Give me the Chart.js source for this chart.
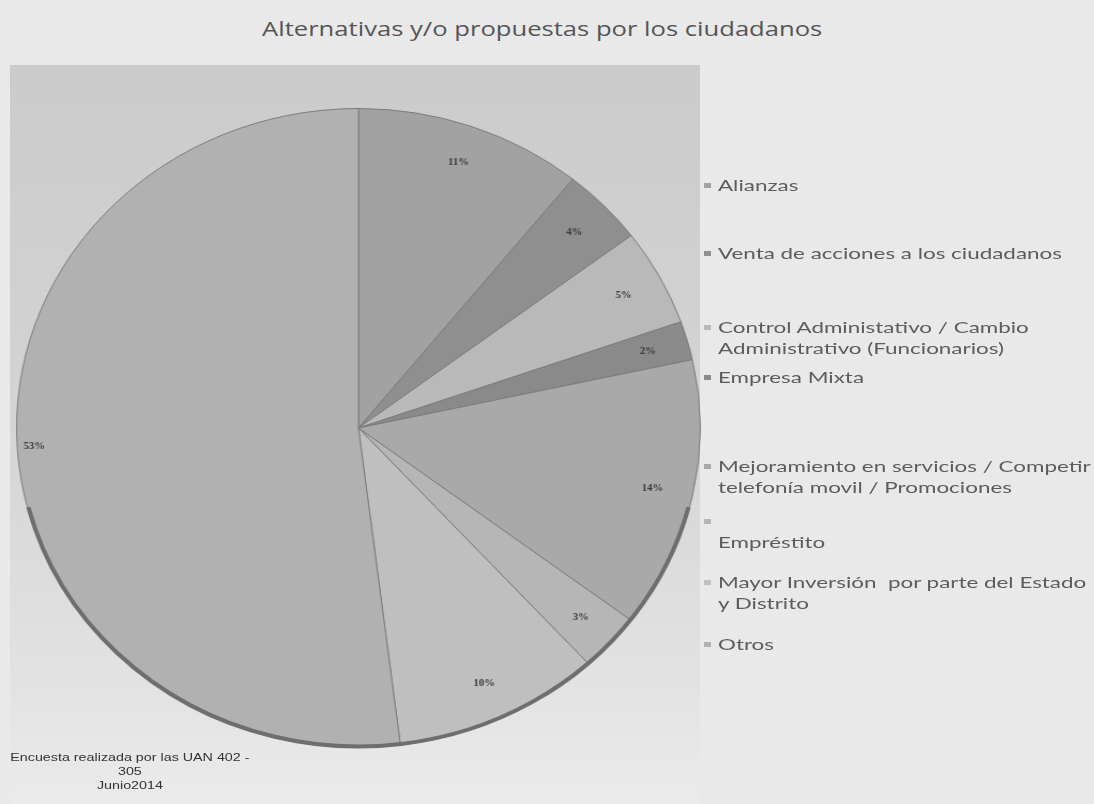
<!DOCTYPE html>
<html lang="es">

<head>
    <meta charset="UTF-8">
    <title>Alternativas y/o propuestas por los ciudadanos</title>
    <script src="https://cdn.jsdelivr.net/npm/chart.js@4/dist/chart.umd.min.js"></script>
    <style>
        body {
            margin: 0;
            width: 1094px;
            height: 804px;
            overflow: hidden;
            position: relative;
            background-color: #e9e9e9;
            font-family: Lato, "Noto Sans", sans-serif;
        }

        .plot-bg {
            position: absolute;
            left: 10px;
            top: 65px;
            width: 690px;
            height: 739px;
            background: linear-gradient(to bottom, #cbcbcb 0%, #d3d3d3 45%, #e3e3e3 85%, #ebebeb 100%);
        }

        .title {
            position: absolute;
            top: 15px;
            left: 262px;
            white-space: nowrap;
            font-family: "Open Sans", sans-serif;
            font-size: 20px;
            color: #555;
            transform: scaleX(1.28);
            transform-origin: 0 0;
        }

        /* the photo of the original is stretched sideways a bit */
        .chart-wrap {
            position: absolute;
            left: 0;
            top: 0;
            transform: scaleX(1.07);
            transform-origin: 0 0;
        }

        .legend {
            position: absolute;
            left: 704px;
            top: 0;
        }

        .legend-item {
            position: absolute;
            left: 0;
            white-space: pre;
            font-size: 16px;
            line-height: 21px;
            color: #5c5c5c;
            transform: scaleX(1.4);
            transform-origin: 0 0;
        }

        .legend-item .box {
            display: inline-block;
            width: 5px;
            height: 5px;
            margin-right: 5px;
            vertical-align: 3px;
        }

        .legend-item .txt {
            display: inline-block;
            vertical-align: top;
        }

        .note {
            position: absolute;
            left: 9px;
            top: 750px;
            width: 186px;
            text-align: center;
            font-family: "Liberation Sans Narrow", "Liberation Sans", sans-serif;
            font-size: 11px;
            line-height: 14px;
            color: #333;
            transform: scaleX(1.3);
            transform-origin: 0 0;
        }
    </style>
</head>

<body>
    <div class="plot-bg"></div>
    <div class="title">Alternativas y/o propuestas por los ciudadanos</div>
    <div class="chart-wrap"><canvas id="chart" width="1024" height="804"></canvas></div>
    <div class="legend" id="legend"></div>
    <div class="note">Encuesta realizada por las UAN 402 -<br>305<br>Junio2014</div>

    <script>
        // Alternativas (same order as the legend, clockwise from the top)
        const categories = [
            'Alianzas',
            'Venta de acciones a los ciudadanos',
            'Control Administativo / Cambio\nAdministrativo (Funcionarios)',
            'Empresa Mixta',
            'Mejoramiento en servicios / Competir\ntelefonía movil / Promociones',
            '\nEmpréstito',
            'Mayor Inversión  por parte del Estado\ny Distrito',
            'Otros'
        ];
        // percent of answers
        const percentages = [11, 4, 5, 2, 14, 3, 10, 53];
        const sliceColors = ['#a2a2a2', '#8f8f8f', '#b9b9b9', '#8a8a8a', '#a9a9a9', '#b6b6b6', '#bfbfbf', '#b1b1b1'];

        // percent labels inside the slices
        const sliceLabels = {
            id: 'sliceLabels',
            afterDatasetsDraw(chart) {
                const ctx = chart.ctx;
                const meta = chart.getDatasetMeta(0);
                ctx.save();
                ctx.font = 'bold 10px "Liberation Serif", serif';
                ctx.fillStyle = '#3a3a3a';
                ctx.textAlign = 'center';
                ctx.textBaseline = 'middle';
                meta.data.forEach((arc, i) => {
                    const mid = (arc.startAngle + arc.endAngle) / 2;
                    const r = arc.outerRadius * (i === meta.data.length - 1 ? 0.95 : 0.88);
                    ctx.fillText(percentages[i] + '%', arc.x + Math.cos(mid) * r, arc.y + Math.sin(mid) * r);
                });
                // darker rim on the lower edge (3D look)
                const a = meta.data[0];
                ctx.beginPath();
                ctx.arc(a.x, a.y, a.outerRadius - 1, Math.PI * 0.08, Math.PI * 0.92);
                ctx.lineWidth = 4;
                ctx.strokeStyle = '#6e6e6e';
                ctx.stroke();
                ctx.restore();
            }
        };

        const ctx = document.getElementById('chart').getContext('2d');
        new Chart(ctx, {
            type: 'pie',
            data: {
                labels: categories,
                datasets: [{
                    data: percentages,
                    backgroundColor: sliceColors,
                    borderColor: '#7c7c7c',
                    borderWidth: 1
                }]
            },
            options: {
                responsive: false,
                animation: false,
                layout: {
                    padding: { left: 15, right: 369, top: 108, bottom: 56 }
                },
                plugins: {
                    legend: { display: false },
                    tooltip: { enabled: false }
                }
            },
            plugins: [sliceLabels]
        });

        // legend on the right, built from the same arrays
        const legendTops = [174, 242, 316, 366, 455, 510, 571, 633];
        const legend = document.getElementById('legend');
        categories.forEach((name, i) => {
            const item = document.createElement('div');
            item.className = 'legend-item';
            item.style.top = legendTops[i] + 'px';
            item.innerHTML = '<span class="box" style="background:' + sliceColors[i] + '"></span><span class="txt"></span>';
            item.querySelector('.txt').textContent = name;
            legend.appendChild(item);
        });
    </script>
</body>

</html>
